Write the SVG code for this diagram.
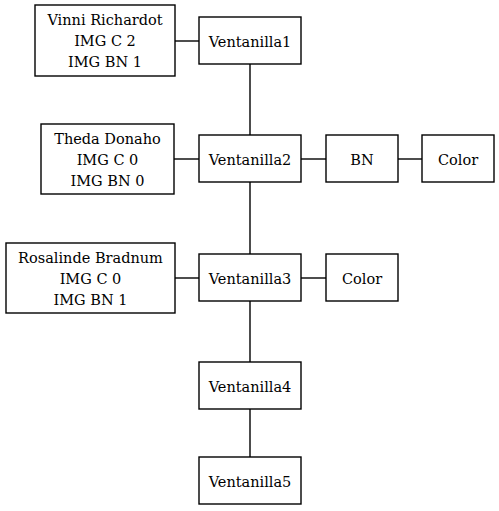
<svg xmlns="http://www.w3.org/2000/svg" width="499" height="511" viewBox="0 0 499 511" font-family="DejaVu Serif, Liberation Serif, serif">
<style>
rect{fill:#fff;stroke:#000;stroke-width:1.4}
text{font-size:14.5px;text-anchor:middle;fill:#000}
.c line{stroke:#000;stroke-width:1.4}
</style>
<rect x="0" y="0" width="499" height="511" style="stroke:none"/>
<g class="c" id="connectors">
<line x1="175" y1="41" x2="199" y2="41"/>
<line x1="250" y1="64" x2="250" y2="135"/>
<line x1="174" y1="159" x2="199" y2="159"/>
<line x1="301" y1="159" x2="326" y2="159"/>
<line x1="398" y1="159" x2="422" y2="159"/>
<line x1="250" y1="182" x2="250" y2="254"/>
<line x1="175" y1="278" x2="199" y2="278"/>
<line x1="301" y1="278" x2="326" y2="278"/>
<line x1="250" y1="301" x2="250" y2="362"/>
<line x1="250" y1="409" x2="250" y2="457"/>
</g>
<g id="vinni"><rect x="35" y="5" width="140" height="71"/><text x="105" y="25">Vinni Richardot</text><text x="105" y="46">IMG C 2</text><text x="105" y="67">IMG BN 1</text></g>
<g id="v1"><rect x="199" y="17" width="102" height="47"/><text x="250" y="46.5">Ventanilla1</text></g>
<g id="theda"><rect x="41" y="124" width="133" height="70"/><text x="107.5" y="144">Theda Donaho</text><text x="107.5" y="165">IMG C 0</text><text x="107.5" y="186">IMG BN 0</text></g>
<g id="v2"><rect x="199" y="135" width="102" height="47"/><text x="250" y="164.5">Ventanilla2</text></g>
<g id="bn"><rect x="326" y="135" width="72" height="47"/><text x="362" y="164.5">BN</text></g>
<g id="color1"><rect x="422" y="135" width="72" height="47"/><text x="458" y="164.5">Color</text></g>
<g id="rosalinde"><rect x="6" y="243" width="169" height="70"/><text x="90.5" y="263">Rosalinde Bradnum</text><text x="90.5" y="284">IMG C 0</text><text x="90.5" y="305">IMG BN 1</text></g>
<g id="v3"><rect x="199" y="254" width="102" height="47"/><text x="250" y="283.5">Ventanilla3</text></g>
<g id="color2"><rect x="326" y="254" width="72" height="47"/><text x="362" y="283.5">Color</text></g>
<g id="v4"><rect x="199" y="362" width="102" height="47"/><text x="250" y="391.5">Ventanilla4</text></g>
<g id="v5"><rect x="199" y="457" width="102" height="47"/><text x="250" y="486.5">Ventanilla5</text></g>
</svg>
